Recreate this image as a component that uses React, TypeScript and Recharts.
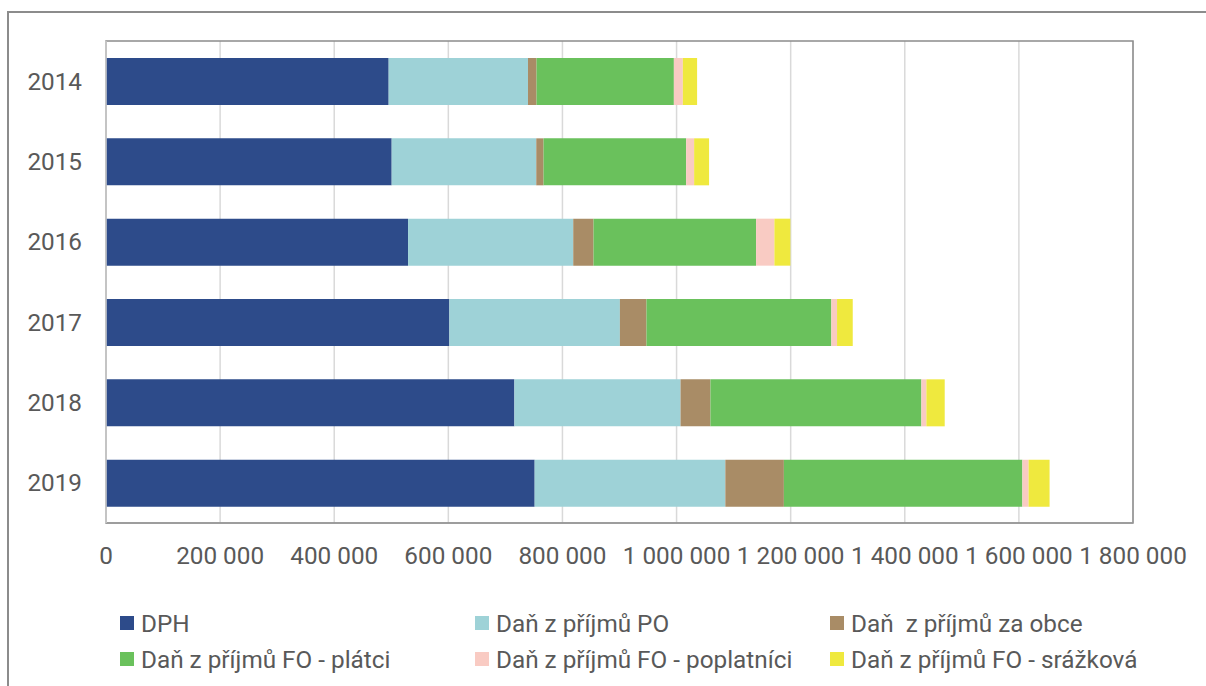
import React from "react";
import {
  BarChart,
  Bar,
  XAxis,
  YAxis,
  CartesianGrid,
  ReferenceArea,
} from "recharts";

const years = ["2014", "2015", "2016", "2017", "2018", "2019"];
const dph = [495400, 500700, 529400, 601800, 715800, 751300];
const po = [244200, 253400, 289500, 298900, 291200, 334200];
const obce = [15000, 12800, 35600, 46600, 52400, 102600];
const foPlatci = [240700, 249900, 284900, 324000, 369700, 418000];
const foPoplatnici = [15700, 14000, 32100, 10000, 8800, 10900];
const foSrazkova = [25000, 26200, 28000, 27500, 32100, 36800];

const xTicks = [0, 200000, 400000, 600000, 800000, 1000000, 1200000, 1400000, 1600000, 1800000];

const seriesKeys = ["dph", "po", "obce", "foPlatci", "foPoplatnici", "foSrazkova"];
const seriesNames = [
  "DPH",
  "Daň z příjmů PO",
  "Daň  z příjmů za obce",
  "Daň z příjmů FO - plátci",
  "Daň z příjmů FO - poplatníci",
  "Daň z příjmů FO - srážková",
];
const seriesColors = ["#2D4B8A", "#9ED2D7", "#A98C66", "#6AC15C", "#F9CBC3", "#EFE93E"];
const legendOrder = [0, 1, 2, 3, 4, 5];

const data = years.map((y, i) => ({
  year: y,
  dph: dph[i],
  po: po[i],
  obce: obce[i],
  foPlatci: foPlatci[i],
  foPoplatnici: foPoplatnici[i],
  foSrazkova: foSrazkova[i],
}));

const fmt = (v: number) => String(v).replace(/\B(?=(\d{3})+(?!\d))/g, " ");

const FONT = "Roboto, 'Liberation Sans', sans-serif";
const TEXT = "#595959";
const FS = 24.3;
const FW = 400;

const legendCols = [120, 475, 830];
const legendRows = [623, 659];

export default function App() {
  return (
    <div style={{ position: "absolute", left: 0, top: 0, width: 1206, height: 686, overflow: "hidden", background: "#fff", fontFamily: FONT }}>
      <div
        style={{
          position: "absolute",
          left: 7,
          top: 11,
          width: 1260,
          height: 760,
          borderTop: "2px solid #8c8c8c",
          borderLeft: "2px solid #8c8c8c",
          boxSizing: "border-box",
        }}
      />
      <div style={{ position: "absolute", left: 0, top: 0 }}>
        <BarChart
          width={1206}
          height={686}
          data={data}
          layout="vertical"
          margin={{ top: 41, right: 73, bottom: 0, left: 0 }}
          barSize={47}
        >
          <CartesianGrid horizontal={false} vertical={true} stroke="#d9d9d9" strokeWidth={1.5} />
          <XAxis
            type="number"
            domain={[0, 1800000]}
            ticks={xTicks}
            tickFormatter={fmt}
            height={163}
            tickSize={0}
            tickMargin={24}
            axisLine={{ stroke: "#9a9a9a", strokeWidth: 1.5 }}
            tickLine={false}
            tick={{ fill: TEXT, fontSize: FS, fontFamily: FONT, fontWeight: FW }}
            interval={0}
          />
          <YAxis
            type="category"
            dataKey="year"
            width={106}
            tickSize={0}
            tickMargin={24}
            axisLine={{ stroke: "#d0d0d0", strokeWidth: 1.5 }}
            tickLine={false}
            tick={{ fill: TEXT, fontSize: FS, fontFamily: FONT, fontWeight: FW }}
          />
          {seriesKeys.map((k, i) => (
            <Bar
              key={k}
              dataKey={k}
              name={seriesNames[i]}
              stackId="a"
              fill={seriesColors[i]}
              isAnimationActive={false}
            />
          ))}
          <ReferenceArea
            x1={0}
            x2={1800000}
            fill="none"
            fillOpacity={0}
            stroke="#8c8c8c"
            strokeWidth={1.5}
            ifOverflow="extendDomain"
          />
        </BarChart>
      </div>
      {legendOrder.map((si, idx) => {
        const col = idx % 3;
        const row = Math.floor(idx / 3);
        return (
          <div
            key={si}
            style={{
              position: "absolute",
              left: legendCols[col],
              top: legendRows[row] - 15,
              height: 30,
              display: "flex",
              alignItems: "center",
              whiteSpace: "pre",
              fontSize: FS,
              fontWeight: FW,
              color: TEXT,
              fontFamily: FONT,
            }}
          >
            <span style={{ display: "inline-block", width: 14, height: 14, background: seriesColors[si], marginRight: 7 }} />
            <span>{seriesNames[si]}</span>
          </div>
        );
      })}
    </div>
  );
}
